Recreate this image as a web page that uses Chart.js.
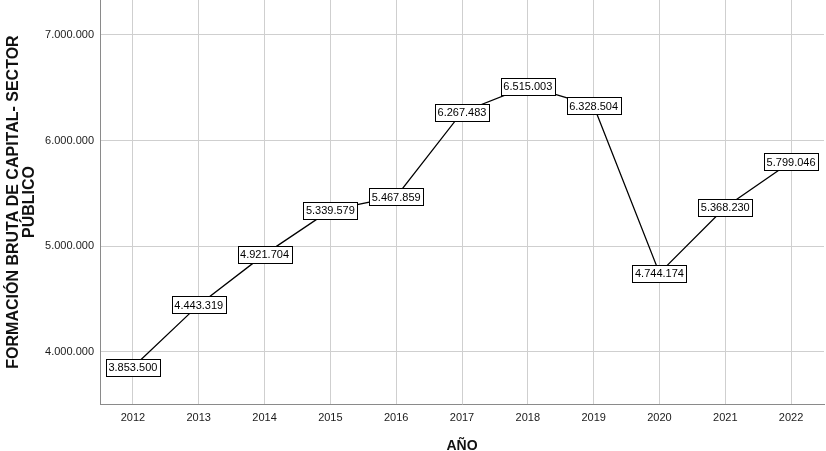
<!DOCTYPE html>
<html>
<head>
<meta charset="utf-8">
<script src="https://cdn.jsdelivr.net/npm/chart.js@4"></script>
<style>
  html, body { margin: 0; padding: 0; background: #fff; }
  #wrap { width: 826px; height: 451px; position: relative; }
</style>
</head>
<body>
<div id="wrap"><canvas id="chart"></canvas></div>
<script>
// Formación bruta de capital - sector público, por año
const anos = ['2012', '2013', '2014', '2015', '2016', '2017', '2018', '2019', '2020', '2021', '2022'];
const valores = [3853500, 4443319, 4921704, 5339579, 5467859, 6267483, 6515003, 6328504, 4744174, 5368230, 5799046];
const ticksY = [4000000, 5000000, 6000000, 7000000];

const FONT = '"Liberation Sans", Arial, sans-serif';

// 1234567 -> 1.234.567
const fmtNum = v => String(Math.round(v)).replace(/\B(?=(\d{3})+(?!\d))/g, '.');

const etiquetas = {
  id: 'etiquetas',
  afterDatasetsDraw(chart) {
    const ctx = chart.ctx;
    const meta = chart.getDatasetMeta(0);
    ctx.save();
    ctx.font = '11px ' + FONT;
    ctx.textAlign = 'center';
    ctx.textBaseline = 'middle';
    meta.data.forEach((pt, i) => {
      const txt = fmtNum(valores[i]);
      const w = Math.round(ctx.measureText(txt).width) + 5;
      const h = 17;
      const x = Math.round(pt.x - w / 2) + 0.5;
      const y = Math.round(pt.y - h / 2) + 0.5;
      ctx.fillStyle = '#fff';
      ctx.fillRect(x, y, w, h);
      ctx.strokeStyle = '#000';
      ctx.lineWidth = 1;
      ctx.strokeRect(x, y, w, h);
      ctx.fillStyle = '#000';
      ctx.fillText(txt, pt.x, pt.y + 1);
    });
    ctx.restore();
  }
};

new Chart(document.getElementById('chart'), {
  type: 'line',
  data: {
    labels: anos,
    datasets: [{
      data: valores,
      borderColor: '#000',
      borderWidth: 1.3,
      pointRadius: 0,
      tension: 0,
      fill: false,
    }],
  },
  options: {
    responsive: true,
    maintainAspectRatio: false,
    animation: false,
    layout: { padding: { top: 0, right: 2, left: 0, bottom: 0 } },
    plugins: { legend: { display: false }, tooltip: { enabled: false } },
    scales: {
      x: {
        offset: true,
        grid: { color: '#cfcfcf', lineWidth: 1, drawTicks: false, offset: false },
        border: { color: '#8a8a8a', width: 1 },
        ticks: { color: '#1a1a1a', font: { family: FONT, size: 11 }, padding: 7, maxRotation: 0 },
        title: { display: true, text: 'AÑO', color: '#111', font: { family: FONT, size: 14, weight: 'bold' }, padding: { top: 0, bottom: -4 } },
        afterFit: s => { s.height = 47; },
      },
      y: {
        min: 3505000,
        max: 7330000,
        afterBuildTicks: s => { s.ticks = ticksY.map(v => ({ value: v })); },
        grid: { color: '#cfcfcf', lineWidth: 1, drawTicks: false },
        border: { color: '#8a8a8a', width: 1 },
        ticks: { color: '#1a1a1a', font: { family: FONT, size: 11 }, padding: 6, callback: v => fmtNum(v) },
        title: {
          display: true,
          text: ['FORMACIÓN BRUTA DE CAPITAL- SECTOR', 'PÚBLICO'],
          color: '#111',
          font: { family: FONT, size: 16, weight: 'bold', lineHeight: 1.0 },
          padding: { top: 6, bottom: 0 },
        },
        afterFit: s => { s.width = 100; s.paddingTop = 0; s.paddingBottom = 0; },
      },
    },
  },
  plugins: [etiquetas],
});
</script>
</body>
</html>
